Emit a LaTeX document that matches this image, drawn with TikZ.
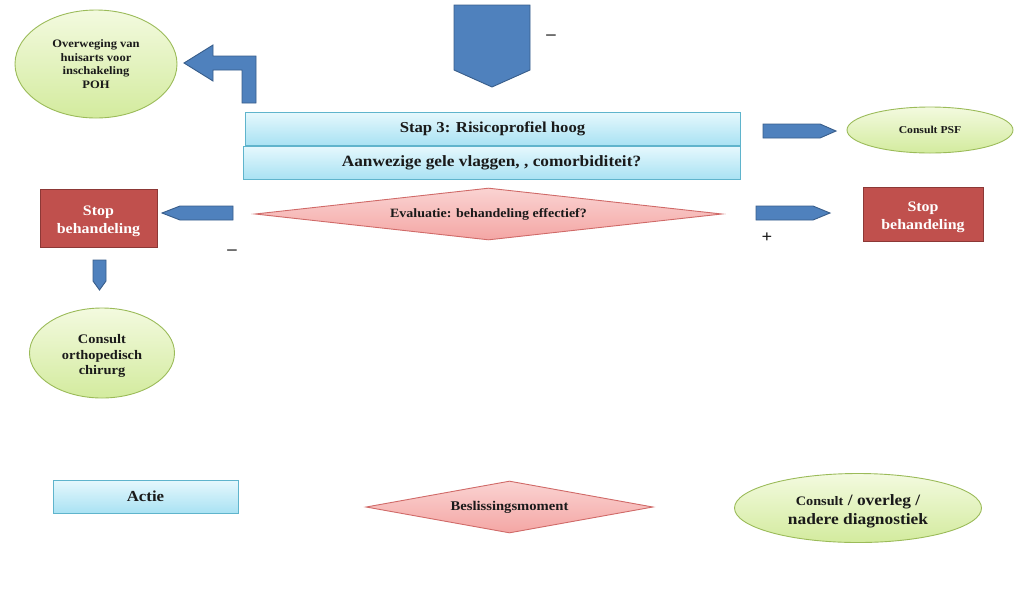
\documentclass[tikz,border=0pt]{standalone}
\usepackage{fontspec}
\setmainfont[FakeStretch=1.1]{Liberation Serif}
\usetikzlibrary{shapes.geometric}
\definecolor{arrblue}{HTML}{4F81BD}
\definecolor{arrborder}{HTML}{385D8A}
\definecolor{cyantop}{HTML}{E6F8FD}
\definecolor{cyanbot}{HTML}{A9E2F3}
\definecolor{cyanborder}{HTML}{5FB4CC}
\definecolor{pinktop}{HTML}{FAD3D2}
\definecolor{pinkbot}{HTML}{F4A6A4}
\definecolor{pinkborder}{HTML}{D06A68}
\definecolor{greentop}{HTML}{F3FADF}
\definecolor{greenbot}{HTML}{D3EB9E}
\definecolor{greenborder}{HTML}{9BBB59}
\definecolor{stopred}{HTML}{C0504D}
\definecolor{stopborder}{HTML}{8C3836}
\definecolor{txt}{HTML}{1A1A1A}
\newcommand{\topstrut}[1]{\rule{0pt}{#1}}
\tikzset{
  blockarrow/.style={fill=arrblue, draw=arrborder, line width=0.9pt, line join=miter},
  actbox/.style={rectangle, draw=cyanborder, line width=0.9pt, top color=cyantop, bottom color=cyanbot, inner sep=0pt, text=txt, font=\bfseries},
  decision/.style={diamond, draw=pinkborder, line width=0.9pt, top color=pinktop, bottom color=pinkbot, inner sep=0pt, text=txt, font=\bfseries},
  consult/.style={ellipse, draw=greenborder, line width=0.9pt, top color=greentop, bottom color=greenbot, inner sep=0pt, align=center, text=txt, font=\bfseries},
  stopbox/.style={rectangle, draw=stopborder, line width=1pt, fill=stopred, text=white, align=center, inner sep=0pt, font=\bfseries\fontsize{14.5}{18}\selectfont},
  sign/.style={font=\bfseries\fontsize{17}{17}\selectfont, inner sep=0pt, text=txt}
}
\begin{document}
\begin{tikzpicture}[x=1pt,y=-1pt]
\useasboundingbox (0,0) rectangle (1024,590);
% top big arrow
\draw[blockarrow] (454,5) -- (530,5) -- (530,70) -- (492,87) -- (454,70) -- cycle;
\node[sign] (minustop) at (551,37) {–};
% bent arrow
\draw[blockarrow] (242,103) -- (256,103) -- (256,56) -- (213,56) -- (213,45) -- (184,63) -- (213,81) -- (213,70) -- (242,70) -- cycle;
% ellipse top-left
\node[consult, minimum width=162pt, minimum height=108pt, font=\bfseries\fontsize{11.4}{13.5}\selectfont] (overw) at (96,64) {Overweging van\\huisarts voor\\inschakeling\\POH};
% main boxes
\node[actbox, minimum width=495pt, minimum height=33pt, font=\bfseries\fontsize{15.2}{17}\selectfont] (stap) at (492.5,128.5) {Stap 3: Risicoprofiel hoog};
\node[actbox, minimum width=497pt, minimum height=33pt, font=\bfseries\fontsize{15.7}{17}\selectfont] (gele) at (491.5,162.5) {Aanwezige gele vlaggen, , comorbiditeit?};
% arrow to PSF
\draw[blockarrow] (763,124) -- (820,124) -- (836,131) -- (820,138) -- (763,138) -- cycle;
\node[consult, minimum width=166pt, minimum height=46pt, font=\bfseries\fontsize{10.6}{12}\selectfont] (psf) at (930,130) {Consult PSF};
% evaluation diamond
\node[decision, shape aspect=9, minimum width=467pt, minimum height=52pt, font=\bfseries\fontsize{12.7}{14}\selectfont] (eval) at (488.5,214) {Evaluatie: behandeling effectief?};
% left arrow
\draw[blockarrow] (233,206) -- (180,206) -- (162,213) -- (180,220) -- (233,220) -- cycle;
\node[sign] (minusleft) at (232,252) {–};
\node[stopbox, minimum width=117pt, minimum height=58pt] (stopl) at (98.5,218) {\topstrut{16pt}Stop\\behandeling};
% down arrow
\draw[blockarrow] (93,260) -- (106,260) -- (106,281) -- (99.5,290) -- (93,281) -- cycle;
\node[consult, minimum width=145pt, minimum height=90pt, font=\bfseries\fontsize{13.1}{15.5}\selectfont] (ortho) at (102,353) {\topstrut{15pt}Consult\\orthopedisch\\chirurg};
% right arrow
\draw[blockarrow] (756,206) -- (813,206) -- (830,213) -- (813,220) -- (756,220) -- cycle;
\node[sign] (plus) at (767,238) {+};
\node[stopbox, minimum width=120pt, minimum height=54pt] (stopr) at (923,214) {\topstrut{16pt}Stop\\behandeling};
% legend
\node[actbox, minimum width=185pt, minimum height=33pt, font=\bfseries\fontsize{15.3}{16}\selectfont] (actie) at (145.5,496.5) {Actie};
\node[decision, shape aspect=5.5, minimum width=287pt, minimum height=52pt, font=\bfseries\fontsize{13.3}{14}\selectfont] (besl) at (509.5,507) {Beslissingsmoment};
\node[consult, minimum width=247pt, minimum height=69pt, font=\bfseries\fontsize{15.8}{19}\selectfont] (legcons) at (858,508) {\topstrut{17pt}{\fontsize{13}{19}\selectfont Consult} / overleg /\\nadere diagnostiek};
\end{tikzpicture}
\end{document}
